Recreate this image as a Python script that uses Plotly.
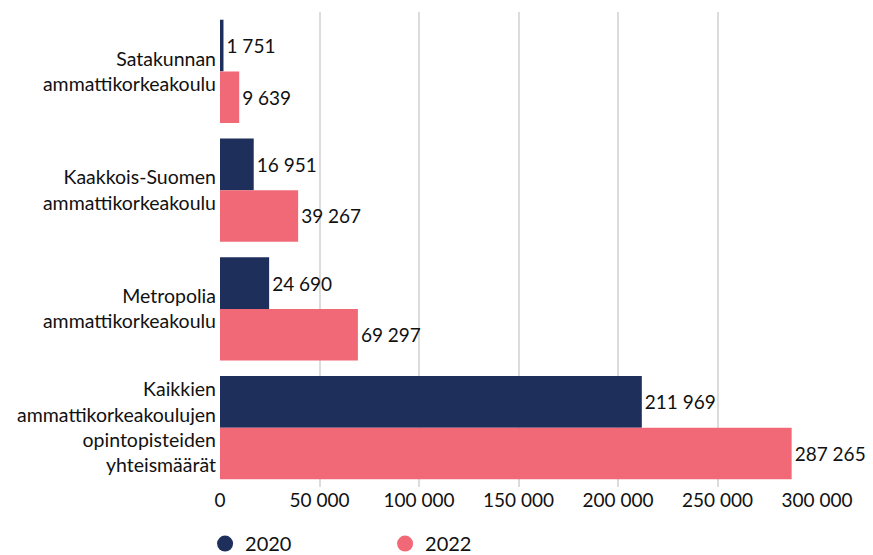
import plotly.graph_objects as go

categories = [
    "Satakunnan<br>ammattikorkeakoulu",
    "Kaakkois-Suomen<br>ammattikorkeakoulu",
    "Metropolia<br>ammattikorkeakoulu",
    "Kaikkien<br>ammattikorkeakoulujen<br>opintopisteiden<br>yhteismäärät",
]
values_2020 = [1751, 16951, 24690, 211969]
values_2022 = [9639, 39267, 69297, 287265]
series_names = ["2020", "2022"]
tick_values = [0, 50000, 100000, 150000, 200000, 250000, 300000]

c2020 = "#1e2f5b"
c2022 = "#f16976"
font = "Lato, 'Open Sans', sans-serif"

fig = go.Figure()
for name, vals, col in [(series_names[0], values_2020, c2020), (series_names[1], values_2022, c2022)]:
    fig.add_trace(go.Bar(
        y=categories, x=vals, orientation="h", name=name,
        marker=dict(color=col, line=dict(width=0)),
        texttemplate="%{x:,}", textposition="outside",
        textfont=dict(size=19, color="#111111", family=font),
        cliponaxis=False, showlegend=False,
    ))
    fig.add_trace(go.Scatter(
        x=[None], y=[None], mode="markers", name=name,
        marker=dict(symbol="circle", size=19, color=col),
    ))

fig.update_layout(
    width=865, height=547,
    margin=dict(l=212, r=56, t=4, b=68, autoexpand=False),
    plot_bgcolor="white", paper_bgcolor="white",
    barmode="group", bargap=0.13, bargroupgap=0,
    separators=", ",
    font=dict(family=font, size=19, color="#111111"),
    xaxis=dict(range=[0, 300000], tickvals=tick_values, tickformat=",",
               showgrid=True, gridcolor="#dcdcdc", gridwidth=1.5,
               zeroline=False, showline=False, ticks="",
               tickfont=dict(size=19)),
    yaxis=dict(autorange="reversed", showgrid=False, zeroline=False,
               ticks="", ticklabelstandoff=3, tickfont=dict(size=19.5)),
    legend=dict(orientation="h", x=-0.025, xanchor="left",
                yref="paper", y=-0.078, yanchor="top",
                entrywidth=135, font=dict(size=20), itemsizing="trace"),
)
fig.write_html("out.html")
